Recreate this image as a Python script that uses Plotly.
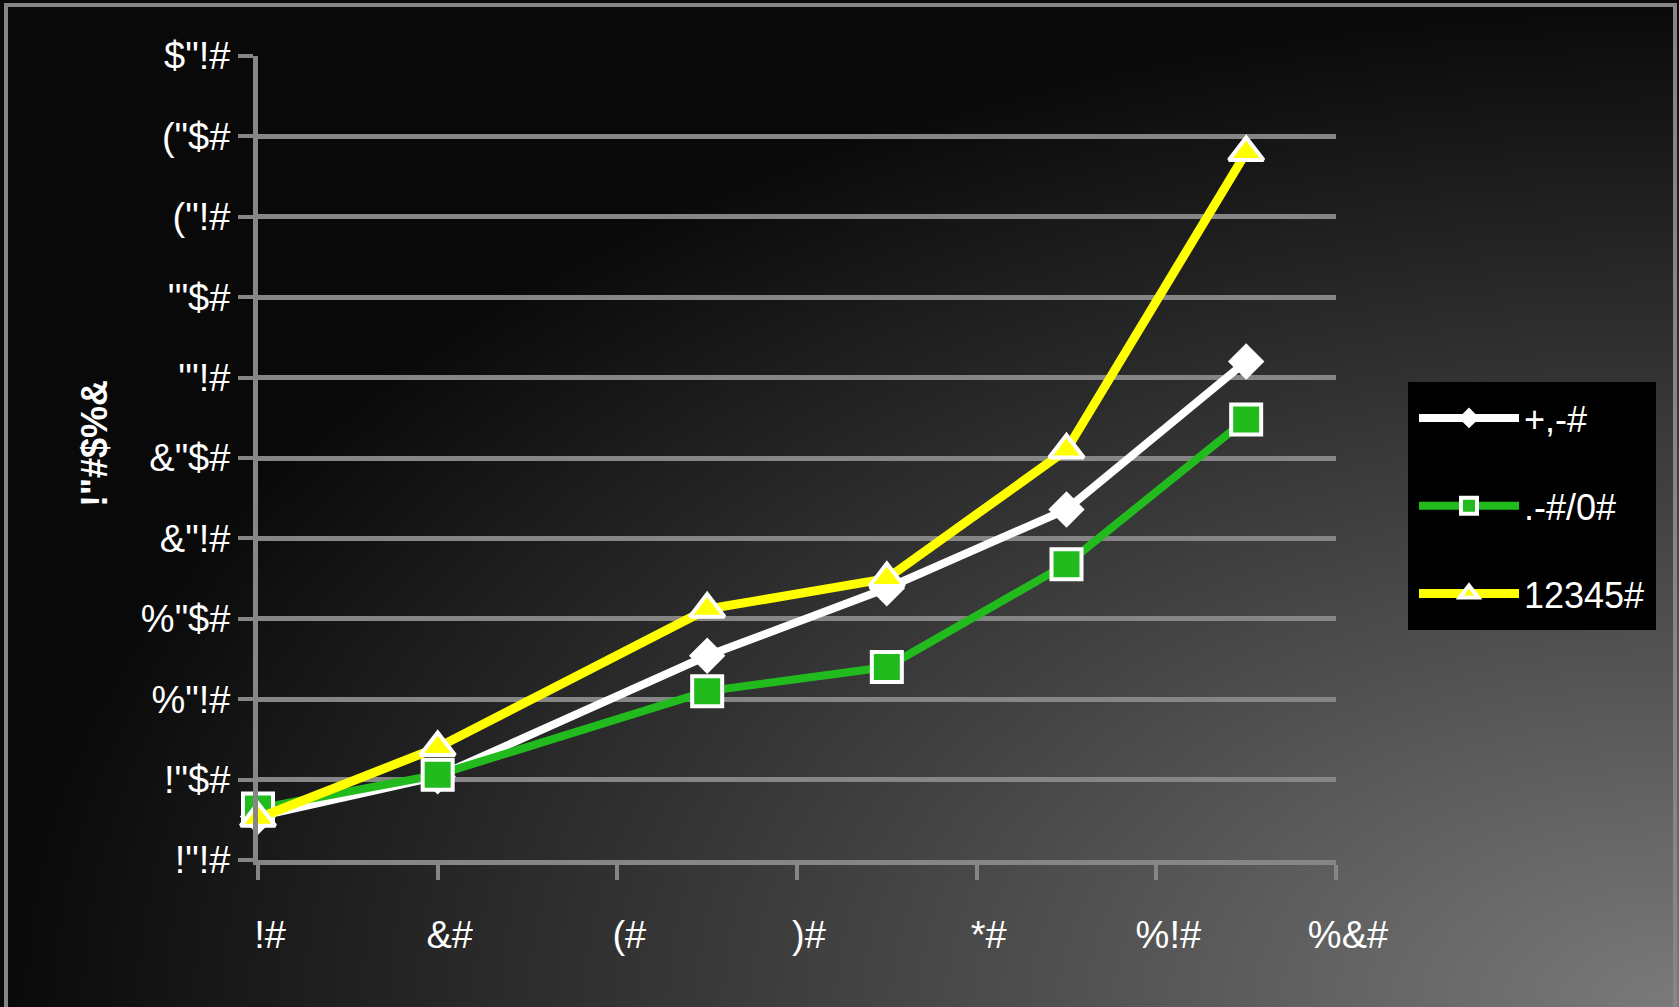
import base64
import plotly.graph_objects as go

# chart values
x_vals = [0, 2, 5, 7, 9, 11]
white_vals = [0.27, 0.52, 1.27, 1.69, 2.18, 3.10]
green_vals = [0.32, 0.53, 1.05, 1.20, 1.84, 2.74]
yellow_vals = [0.26, 0.70, 1.56, 1.75, 2.55, 4.40]

series_names = ["+,-#", ".-#/0#", "12345#"]

x_tickvals = [0, 2, 4, 6, 8, 10, 12]
x_ticktext = ["!#", "&#", "(#", ")#", "*#", "%!#", "%&#"]
y_tickvals = [0, 0.5, 1, 1.5, 2, 2.5, 3, 3.5, 4, 4.5, 5]
y_ticktext = ['!"!#', '!"$#', '%"!#', '%"$#', '&"!#', '&"$#',
              '\'"!#', '\'"$#', '("!#', '("$#', '$"!#']
y_title = '!"#$%&'

W, H = 1679, 1007
L, R, T, B = 258, 343, 56, 147
pw, ph = W - L - R, H - T - B

FONT = "Liberation Sans, Arial, sans-serif"
GRID = "#868686"

# radial background, dark top-left to gray bottom-right
svg = (
    "<svg xmlns='http://www.w3.org/2000/svg' width='1679' height='1007' preserveAspectRatio='none'>"
    "<defs><radialGradient id='g' cx='1' cy='1' r='1'>"
    "<stop offset='0' stop-color='#7a7a7a'/><stop offset='1' stop-color='#090909'/>"
    "</radialGradient></defs>"
    "<rect width='1679' height='1007' fill='url(#g)'/></svg>"
)
bg_src = "data:image/svg+xml;base64," + base64.b64encode(svg.encode()).decode()

fig = go.Figure()

styles = [
    dict(color="white", symbol="diamond", size=28, mline="white", mw=0, lw=8),
    dict(color="#22bb1e", symbol="square", size=30, mline="white", mw=4, lw=8),
    dict(color="#ffff00", symbol="triangle-up", size=30, mline="white", mw=4, lw=9),
]
for name, vals, st in zip(series_names, [white_vals, green_vals, yellow_vals], styles):
    fig.add_trace(go.Scatter(
        x=x_vals, y=vals, name=name, mode="lines+markers",
        legendgroup=name,
        line=dict(color=st["color"], width=st["lw"]),
        marker=dict(symbol=st["symbol"], size=st["size"], color=st["color"],
                    line=dict(color=st["mline"], width=st["mw"])),
        cliponaxis=False,
    ))

fig.add_annotation(
    text=y_title, textangle=-90, xref="paper", yref="paper",
    x=(94 - L) / pw, y=(860 - 444) / ph, xanchor="center", yanchor="middle",
    showarrow=False,
    font=dict(family=FONT, size=36, color="white", weight="bold"),
)

# outer frame
fig.add_shape(
    type="rect", xref="paper", yref="paper", layer="above",
    x0=(6 - L) / pw, x1=(1675 - L) / pw, y0=(860 - 1020) / ph, y1=(860 - 5) / ph,
    line=dict(color=GRID, width=4),
)

fig.add_layout_image(
    source=bg_src, xref="paper", yref="paper",
    x=-L / pw, y=1 + T / ph, sizex=W / pw, sizey=H / ph,
    xanchor="left", yanchor="top", sizing="stretch", layer="below",
)

fig.update_layout(
    width=W, height=H,
    margin=dict(l=L, r=R, t=T, b=B, pad=0),
    paper_bgcolor="#111111",
    plot_bgcolor="black",
    font=dict(family=FONT, color="white", size=36),
    showlegend=True,
    legend=dict(
        x=(1408 - L) / pw, y=(860 - 382) / ph, xanchor="left", yanchor="top",
        bgcolor="black", bordercolor="black", borderwidth=6,
        traceorder="grouped", tracegroupgap=38,
        itemwidth=100, font=dict(size=36, color="white"),
    ),
    xaxis=dict(
        range=[0, 12], tickvals=x_tickvals, ticktext=x_ticktext,
        showgrid=False, zeroline=False, showline=True, linecolor=GRID, linewidth=5,
        ticks="outside", ticklen=15, tickwidth=4, tickcolor=GRID,
        ticklabelstandoff=22, ticklabelshift=12, tickfont=dict(size=38),
    ),
    yaxis=dict(
        range=[0, 5], tickvals=y_tickvals, ticktext=y_ticktext,
        showgrid=True, gridcolor=GRID, gridwidth=5, zeroline=False,
        showline=True, linecolor=GRID, linewidth=5,
        ticks="outside", ticklen=15, tickwidth=4, tickcolor=GRID,
        ticklabelstandoff=0, tickfont=dict(size=38),
    ),
)

fig.write_html("out.html", config={"displayModeBar": False},
               post_script="document.body.style.margin='0';")
